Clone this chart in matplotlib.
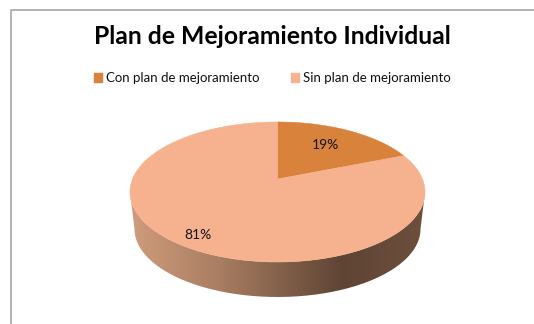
import matplotlib
matplotlib.use("Agg")
import matplotlib.pyplot as plt
import numpy as np
from matplotlib.colors import LinearSegmentedColormap
from matplotlib.patches import Patch, PathPatch
from matplotlib.path import Path

title = "Plan de Mejoramiento Individual"
categories = ["Con plan de mejoramiento", "Sin plan de mejoramiento"]
shares = [19, 81]
share_labels = ["19%", "81%"]
colors = ["#D9823B", "#F6B28F"]

plt.rcParams['font.family'] = ['Lato', 'DejaVu Sans']

W, H = 534, 324
fig = plt.figure(figsize=(W / 100, H / 100), dpi=100)
ax = fig.add_axes([0, 0, 1, 1])
ax.set_xlim(0, W)
ax.set_ylim(H, 0)
ax.axis("off")

cx, cy, rx, ry = 277.5, 192, 147.5, 70
tilt = 13 / 70   # how far the pie centre sits above the middle of the ellipse


def project(frac):
    # position round the pie, clockwise from the top, seen in perspective
    a = 2 * np.pi * np.asarray(frac)
    x, y = np.sin(a), np.cos(a)
    d = 1 + tilt * y
    return cx + rx * x * np.sqrt(1 - tilt ** 2) / d, cy - ry * (y + tilt) / d


# side wall, shaded left to right
lower = np.linspace(np.pi, 0, 100)
top_edge = np.c_[cx + rx * np.cos(lower), cy + ry * np.sin(lower)]
bot_edge = np.c_[cx + 143 * np.cos(lower), 229 + 68 * np.sin(lower)]
wall = Path(np.r_[top_edge, bot_edge[::-1], top_edge[:1]])
cmap = LinearSegmentedColormap.from_list("wall", [(0, "#D09C7C"), (0.3, "#A97E62"),
                                                  (0.72, "#5F4434"), (1, "#6E4F3C")])
img = ax.imshow(np.linspace(0, 1, 256)[None, :], cmap=cmap, aspect="auto",
                extent=[cx - rx, cx + rx, 300, 190], zorder=1)
img.set_clip_path(PathPatch(wall, transform=ax.transData))
ax.set_xlim(0, W)
ax.set_ylim(H, 0)

# pie top
edges = np.cumsum([0] + shares) / sum(shares)
apex = (cx, cy - ry * tilt)
for i, c in enumerate(colors):
    fr = np.linspace(edges[i], edges[i + 1], 200)
    px, py = project(fr)
    ax.fill(np.r_[apex[0], px], np.r_[apex[1], py], color=c, lw=0.4, zorder=2)

ax.text(325, 145, share_labels[0], fontsize=10, ha="center", va="center", color="#111111", zorder=3)
ax.text(198, 235, share_labels[1], fontsize=10, ha="center", va="center", color="#111111", zorder=3)

ax.text(272.5, 37, title, fontsize=17.8, fontweight="bold", ha="center", va="center", color="black")

handles = [Patch(color=c) for c in colors]
ax.legend(handles, categories, ncol=2, loc="center", bbox_to_anchor=(272.5, 78),
          bbox_transform=ax.transData, frameon=False, fontsize=9.5, handlelength=0.6,
          handleheight=0.6, handletextpad=0.3, columnspacing=2.37, labelcolor="#111111")

# outer frame
ax.plot([11, 11, W], [H, 10, 10], color="#A6A6A6", lw=1.2, clip_on=False, zorder=5)

fig.savefig("out.png", dpi=100)
